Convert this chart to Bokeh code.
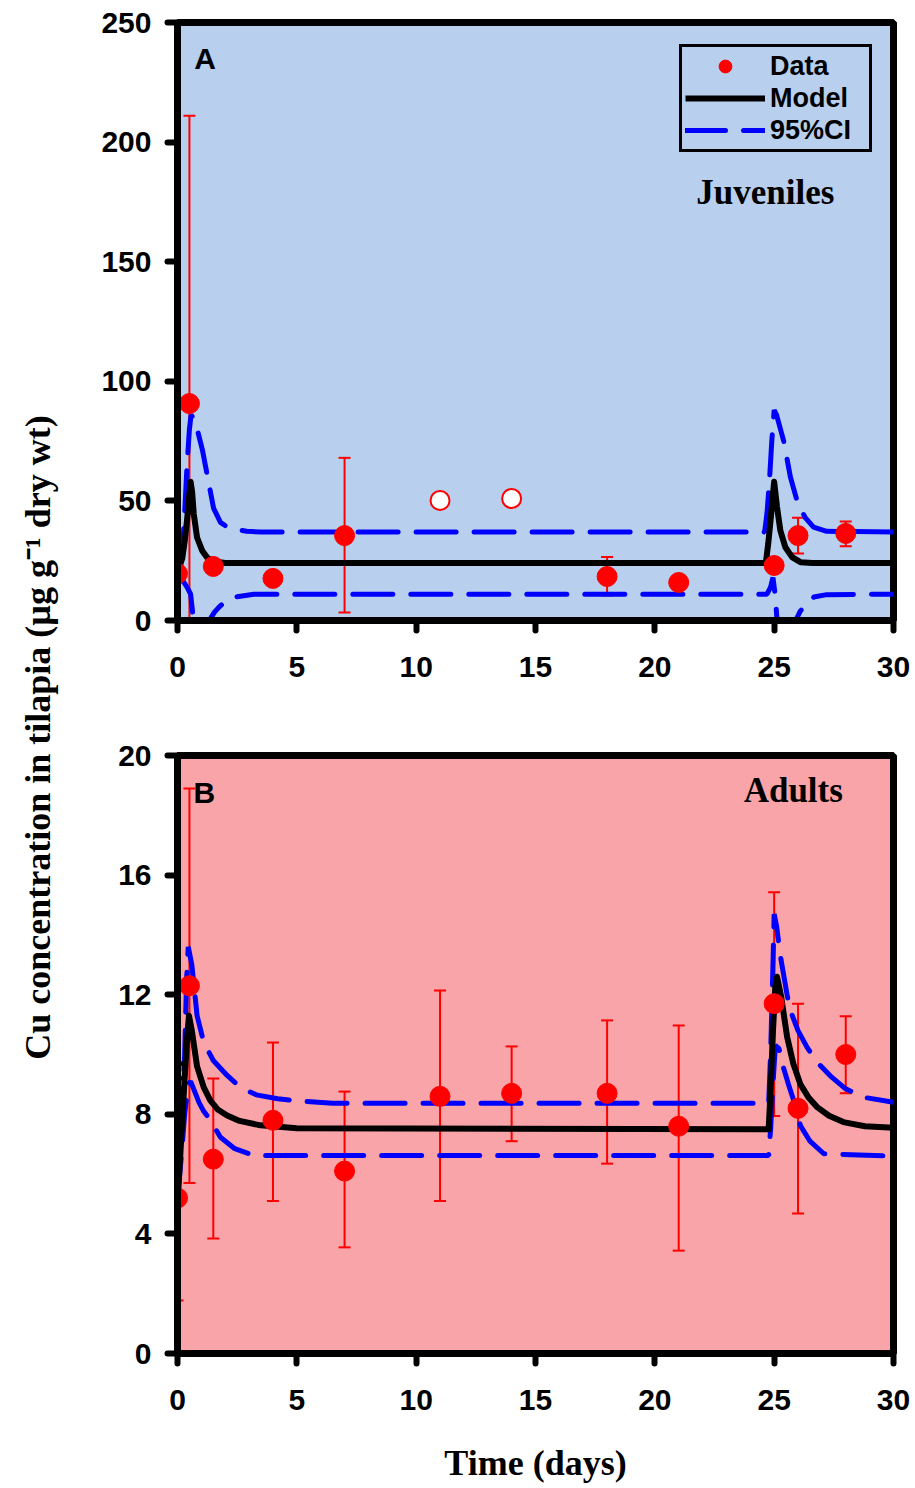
import numpy as np
from bokeh.plotting import figure
from bokeh.models import Range1d, Label, Legend, LegendItem, FixedTicker
from bokeh.layouts import row, column
from bokeh.embed import file_html
from bokeh.resources import INLINE
from bokeh.core.properties import value

SANS = "Liberation Sans"
SERIF = "Liberation Serif"

# ---------------- Panel A: Juveniles ----------------
a_t = [0, 0.5, 1.5, 4, 7, 18, 21, 25, 26, 28]
a_y = [19.6, 90.7, 22.6, 17.6, 35.5, 18.4, 15.9, 23.0, 35.5, 36.4]
a_lo = [16.0, -20.0, 22.6, 17.6, 3.3, 10.5, 15.9, 23.0, 28.0, 31.0]
a_hi = [23.0, 211.0, 22.6, 17.6, 68.0, 26.5, 15.9, 23.0, 43.0, 41.4]
a_open_t = [11, 14]
a_open_y = [50.2, 51.0]

a_model_t = [0, 0.2, 0.3, 0.4, 0.5, 0.55, 0.61, 0.68, 0.82, 1.03, 1.24, 1.52, 2.0,
             24.65, 24.75, 24.85, 24.95, 25.0, 25.12, 25.26, 25.47, 25.75, 26.1, 26.6, 30]
a_model_y = [20, 26, 33, 42, 53, 58, 54, 44.7, 34.7, 29.3, 26.3, 24.7, 24,
             24, 32, 42, 53, 58, 47.4, 37.6, 30.6, 26.5, 24.4, 24, 24]

a_up_t = [0, 0.2, 0.3, 0.4, 0.5, 0.57, 0.7, 0.85, 1.05, 1.3, 1.51, 1.8, 2.1, 2.5, 2.9, 3.5,
          24.6, 24.7, 24.8, 24.9, 25.0, 25.1, 25.4, 25.68, 25.96, 26.3, 26.65, 27.2, 30]
a_up_y = [22, 28, 45, 65, 80, 86, 84, 79, 71, 58, 47, 41, 39, 38, 37.3, 37,
          37, 45, 58, 75, 88, 86, 75, 60, 50, 43, 39, 37.3, 37]

a_lo_t = [0, 0.2, 0.4, 0.55, 0.67, 0.8, 1.0, 1.2, 1.38, 1.55, 1.72, 2.0, 2.3, 3.2,
          24.7, 24.85, 24.95, 25.05, 25.12, 25.3, 25.55, 25.9, 26.1, 26.66, 27.2, 30]
a_lo_y = [18, 17, 14, 11, 0, -12, -18, -10, 0.8, 3.5, 5.4, 8, 9.6, 11,
          11, 14, 18, 10, 0, -15, -10, 0, 4, 9.8, 10.8, 11]

# ---------------- Panel B: Adults ----------------
b_t = [0, 0.5, 1.5, 4, 7, 11, 14, 18, 21, 25, 26, 28]
b_y = [5.2, 12.3, 6.5, 7.8, 6.1, 8.6, 8.7, 8.7, 7.6, 11.7, 8.2, 10.0]
b_lo = [1.77, 5.7, 3.85, 5.1, 3.55, 5.1, 7.1, 6.35, 3.44, 7.94, 4.68, 8.7]
b_hi = [8.6, 18.9, 9.2, 10.4, 8.76, 12.14, 10.27, 11.14, 10.97, 15.43, 11.7, 11.28]
b_open_t = [0]
b_open_y = [9.45]

b_model_t = [0, 0.1, 0.2, 0.3, 0.4, 0.48, 0.6, 0.82, 1.1, 1.38, 1.7, 2.08, 2.6, 3.48, 5,
             24.77, 24.85, 24.95, 25.05, 25.12, 25.3, 25.54, 25.8, 26.1, 26.45, 26.8, 27.3, 27.9, 28.8, 30]
b_model_y = [5.0, 6.4, 7.8, 9.2, 10.5, 11.3, 10.8, 9.6, 8.9, 8.46, 8.15, 7.96, 7.78, 7.63, 7.53,
             7.5, 8.8, 10.8, 12.3, 12.6, 11.9, 10.6, 9.7, 9.0, 8.55, 8.24, 7.95, 7.74, 7.6, 7.55]

b_up_t = [0, 0.15, 0.3, 0.38, 0.45, 0.6, 0.82, 1.1, 1.5, 2.08, 2.64, 3.3, 4.2, 5.0, 6.5,
          24.77, 24.85, 24.95, 25.0, 25.1, 25.26, 25.54, 25.68, 26.0, 26.38, 26.8, 27.4, 27.98, 28.74, 30]
b_up_y = [5.6, 7.5, 10.0, 12.5, 13.6, 13.0, 11.3, 10.4, 9.8, 9.3, 8.9, 8.65, 8.52, 8.45, 8.37,
          8.37, 10.0, 13.0, 14.7, 14.3, 13.3, 12.0, 11.47, 10.8, 10.24, 9.74, 9.25, 8.86, 8.57, 8.4]

b_lo_t = [0, 0.15, 0.3, 0.45, 0.55, 0.7, 0.9, 1.1, 1.38, 1.8, 2.4, 3.2,
          24.77, 24.85, 24.95, 25.05, 25.2, 25.4, 25.6, 25.82, 26.1, 26.5, 27.08, 30]
b_lo_y = [5.2, 6.5, 8.0, 9.0, 9.1, 8.8, 8.4, 8.1, 7.8, 7.23, 6.85, 6.62,
          6.62, 7.5, 9.0, 10.3, 10.2, 9.53, 9.0, 8.46, 7.62, 7.1, 6.68, 6.6]

x_ticks = [0, 5, 10, 15, 20, 25, 30]
a_y_ticks = [0, 50, 100, 150, 200, 250]
b_y_ticks = [0, 4, 8, 12, 16, 20]

RED = "#ff0000"
BLUE = "#0000ff"


def make_panel(height, top, bottom, ymax, yticks, bg):
    p = figure(width=845, height=height, x_range=Range1d(0, 30), y_range=Range1d(0, ymax),
               output_backend="svg", toolbar_location=None,
               min_border_left=107, min_border_right=22,
               min_border_top=top, min_border_bottom=bottom)
    p.background_fill_color = bg
    p.border_fill_color = "white"
    p.xgrid.visible = False
    p.ygrid.visible = False
    p.outline_line_color = "black"
    p.outline_line_alpha = 1
    p.outline_line_width = 7
    p.xaxis.ticker = FixedTicker(ticks=x_ticks)
    p.yaxis.ticker = FixedTicker(ticks=yticks)
    for ax in (p.xaxis[0], p.yaxis[0]):
        ax.axis_line_width = 7
        ax.axis_line_color = "black"
        ax.major_tick_line_width = 6
        ax.major_tick_line_color = "black"
        ax.major_tick_line_cap = "round"
        ax.major_tick_out = 10
        ax.major_tick_in = 0
        ax.minor_tick_line_color = None
        ax.major_label_text_font = SANS
        ax.major_label_text_font_style = "bold"
        ax.major_label_text_font_size = "30px"
        ax.major_label_text_color = "black"
    p.xaxis.major_label_standoff = 26
    p.yaxis.major_label_standoff = 16
    return p


def draw(p, t, y, lo, hi, mt, my, ut, uy, lt, ly):
    et = [t[i] for i in range(len(t)) if hi[i] > lo[i]]
    elo = [lo[i] for i in range(len(t)) if hi[i] > lo[i]]
    ehi = [hi[i] for i in range(len(t)) if hi[i] > lo[i]]
    p.segment(x0=et, y0=elo, x1=et, y1=ehi, line_color=RED, line_width=2)
    p.scatter(x=et + et, y=elo + ehi, marker="dash", size=12, line_color=RED, line_width=2)
    up = p.line(ut, uy, line_color=BLUE, line_width=5, line_dash="40 18", line_cap="round")
    p.line(lt, ly, line_color=BLUE, line_width=5, line_dash="40 18", line_cap="round")
    mod = p.line(mt, my, line_color="black", line_width=6, line_join="round")
    sc = p.scatter(x=t, y=y, size=20, fill_color=RED, line_color=RED)
    return sc, mod, up


def label(p, x, y, text, font, size, align):
    p.add_layout(Label(x=x, y=y, text=text, text_font=font, text_font_style="bold",
                       text_font_size=size, text_color="black",
                       text_baseline="middle", text_align=align))


# Panel A
pA = make_panel(720, 22, 100, 250, a_y_ticks, "#b8cfee")
scA, modA, upA = draw(pA, a_t, a_y, a_lo, a_hi, a_model_t, a_model_y, a_up_t, a_up_y, a_lo_t, a_lo_y)
pA.scatter(x=a_open_t, y=a_open_y, size=19, fill_color="white", line_color=RED, line_width=2)
label(pA, 0.7, 235, "A", SANS, "30px", "left")
label(pA, 24.63, 179, "Juveniles", SERIF, "35px", "center")
legend = Legend(items=[LegendItem(label="Data", renderers=[scA]),
                       LegendItem(label="Model", renderers=[modA]),
                       LegendItem(label="95%CI", renderers=[upA])],
                location=(502, 468))
legend.border_line_color = "black"
legend.border_line_alpha = 1
legend.border_line_width = 3
legend.background_fill_alpha = 0
legend.label_text_font = SANS
legend.label_text_font_style = "bold"
legend.label_text_font_size = "27px"
legend.label_text_color = "black"
legend.glyph_width = 80
legend.glyph_height = 32
legend.label_height = 32
legend.label_width = 96
legend.spacing = 0
legend.padding = 3
legend.margin = 0
legend.label_standoff = 5
pA.add_layout(legend)

# Panel B
pB = make_panel(768, 35, 135, 20, b_y_ticks, "#f8a4a8")
draw(pB, b_t, b_y, b_lo, b_hi, b_model_t, b_model_y, b_up_t, b_up_y, b_lo_t, b_lo_y)
pB.scatter(x=b_open_t, y=b_open_y, size=17, fill_color=None, line_color="black", line_width=4)
label(pB, 0.67, 18.76, "B", SANS, "30px", "left")
label(pB, 25.8, 18.83, "Adults", SERIF, "35px", "center")
pB.xaxis.axis_label = "Time (days)"
pB.xaxis.axis_label_text_font = SERIF
pB.xaxis.axis_label_text_font_style = "bold"
pB.xaxis.axis_label_text_font_size = "36px"
pB.xaxis.axis_label_text_color = "black"
pB.xaxis.axis_label_standoff = 30

# Shared y-axis label
lf = figure(width=70, height=1488, x_range=Range1d(0, 70), y_range=Range1d(0, 1488),
            output_backend="svg", toolbar_location=None, min_border=0,
            x_axis_type=None, y_axis_type=None)
lf.outline_line_color = None
lf.text(x=[37], y=[1488 - 737], text=["Cu concentration in tilapia (µg g⁻¹ dry wt)"],
        angle=np.pi / 2, text_align="center", text_baseline="middle",
        text_font=value(SERIF), text_font_style="bold", text_font_size="36px",
        text_color="black")

layout = row(lf, column(pA, pB, spacing=0), spacing=0)
open("out.html", "w").write(file_html(layout, INLINE))
